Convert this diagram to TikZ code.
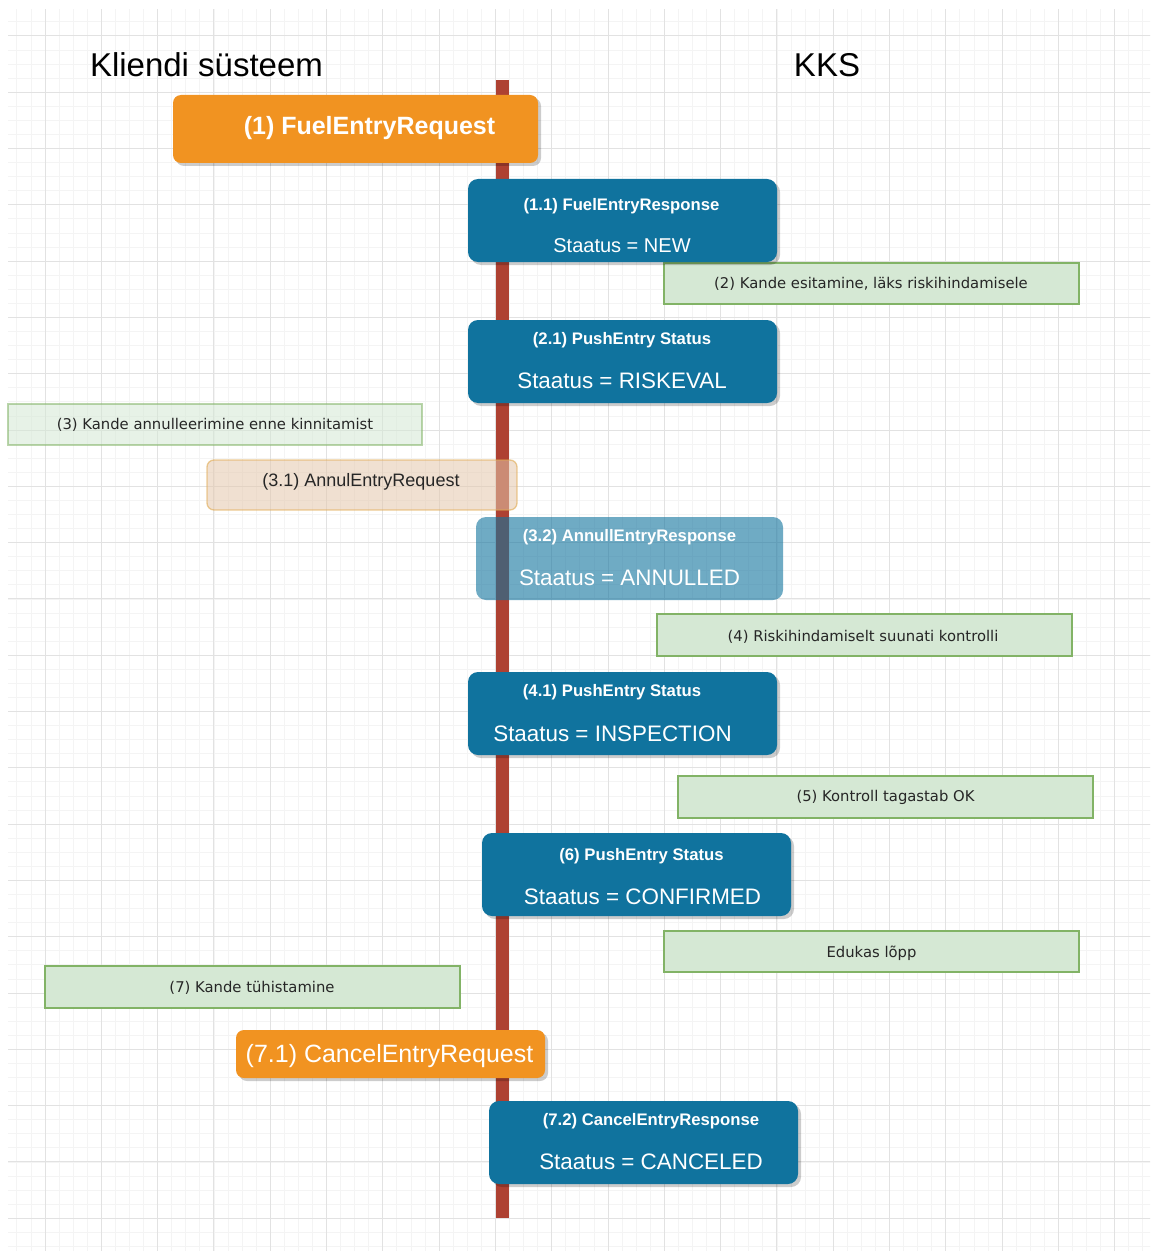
\documentclass[tikz,border=0pt]{standalone}
\usepackage{fontspec}
\setmainfont{Liberation Sans}
\newfontfamily\verd{DejaVu Sans}
\usetikzlibrary{shadows}
\definecolor{orangeF}{RGB}{241,147,33}
\definecolor{blueF}{RGB}{16,115,158}
\definecolor{greenF}{RGB}{213,232,212}
\definecolor{greenD}{RGB}{130,179,102}
\definecolor{redL}{RGB}{174,65,50}
\definecolor{peachF}{RGB}{228,200,172}
\definecolor{peachD}{RGB}{225,170,80}
\definecolor{gridMinor}{RGB}{244,244,244}
\definecolor{gridMajor}{RGB}{226,226,226}
\tikzset{
  shd/.style={drop shadow={shadow xshift=3pt,shadow yshift=-3pt,opacity=#1,fill=black}},
  bluebox/.style={rectangle, rounded corners=10pt, fill=blueF, draw=none,
    minimum width=309pt, minimum height=83pt, inner sep=0pt},
  orangebox/.style={rectangle, rounded corners=8pt, fill=orangeF, draw=none,
    inner sep=0pt, shd=0.2},
  greenbox/.style={rectangle, fill=greenF, draw=greenD, line width=1.5pt,
    minimum width=415pt, minimum height=41pt, inner sep=0pt},
  hdr/.style={anchor=base, inner sep=0pt, text=white, font=\fontsize{16.7}{18}\selectfont\bfseries},
  stat/.style={anchor=base, inner sep=0pt, text=white, font=\fontsize{22.4}{24}\selectfont},
  gtext/.style={anchor=base, inner sep=0pt, text=black!85, font=\verd\fontsize{14.8}{16}\selectfont},
  ttl/.style={anchor=base, inner sep=0pt, text=black, font=\fontsize{33}{36}\selectfont},
  gridminor/.style={draw=gridMinor, line width=0.8pt},
  gridmajor/.style={draw=gridMajor, line width=1pt},
}
\begin{document}
\begin{tikzpicture}[x=1pt,y=-1pt]
\useasboundingbox (0,0) rectangle (1153,1252);
\fill[white] (0,0) rectangle (1153,1252);
% grid
\begin{scope}
\clip (8,10) rectangle (1150,1250);
\foreach \k in {-3,...,78} \draw[gridminor] ({45+14.075*\k},0) -- ({45+14.075*\k},1252);
\foreach \k in {-2,...,86} \draw[gridminor] (0,{35.9+14.075*\k}) -- (1153,{35.9+14.075*\k});
\foreach \k in {0,...,19} \draw[gridmajor] ({45+56.3*\k},0) -- ({45+56.3*\k},1252);
\foreach \k in {0,...,21} \draw[gridmajor] (0,{35.9+56.3*\k}) -- (1153,{35.9+56.3*\k});
\end{scope}

% titles
\node[ttl] (tclient) at (206.5,77) {Kliendi süsteem};
\node[ttl] (tkks) at (827,77) {KKS};

% green notes
\node[greenbox] (g2) at (871.5,283.5) {};
\node[gtext] (g2t) at (871,288.3) {(2) Kande esitamine, läks riskihindamisele};
\node[greenbox, minimum width=414pt, fill opacity=0.55, draw opacity=0.55] (g3) at (215,424.5) {};
\node[gtext] (g3t) at (215,429.3) {(3) Kande annulleerimine enne kinnitamist};
\node[greenbox, minimum height=42pt] (g4) at (864.5,635) {};
\node[gtext] (g4t) at (863,641.3) {(4) Riskihindamiselt suunati kontrolli};
\node[greenbox, minimum height=42pt] (g5) at (885.5,797) {};
\node[gtext] (g5t) at (885.5,801.3) {(5) Kontroll tagastab OK};
\node[greenbox] (gend) at (871.5,951.5) {};
\node[gtext] (gendt) at (871.5,957.3) {Edukas lõpp};
\node[greenbox, minimum height=42pt] (g7) at (252.5,987) {};
\node[gtext] (g7t) at (252,992.3) {(7) Kande tühistamine};

% lifeline
\coordinate (ltop) at (502.5,80);
\coordinate (lbot) at (502.5,1218);
\draw[redL, line width=13pt] (ltop) -- (lbot);

% request / response boxes
\node[orangebox, minimum width=365pt, minimum height=68pt] (b1) at (355.5,129) {};
\node[anchor=base, inner sep=0pt, text=white, font=\fontsize{25}{28}\selectfont\bfseries] (b1t) at (369.5,135) {(1) FuelEntryRequest};

\node[bluebox, shd=0.2] (b11) at (622.5,220.5) {};
\node[hdr] (b11h) at (621.5,211) {(1.1) FuelEntryResponse};
\node[stat, font=\fontsize{20}{22}\selectfont] (b11s) at (622,252) {Staatus = NEW};

\node[bluebox, shd=0.2] (b21) at (622.5,361.5) {};
\node[hdr] (b21h) at (622,344) {(2.1) PushEntry Status};
\node[stat] (b21s) at (622,388) {Staatus = RISKEVAL};

\node[rectangle, rounded corners=7pt, fill=peachF, fill opacity=0.55, draw=peachD, draw opacity=0.6, line width=1.3pt,
  minimum width=310pt, minimum height=50pt, inner sep=0pt] (b31) at (362,485) {};
\node[anchor=base, inner sep=0pt, text=black!85, font=\fontsize{18}{20}\selectfont] (b31t) at (361,486.4) {(3.1) AnnulEntryRequest};

\node[bluebox, minimum width=307pt, fill opacity=0.6] (b32) at (629.5,558.5) {};
\node[hdr] (b32h) at (629.5,541) {(3.2) AnnullEntryResponse};
\node[stat] (b32s) at (629.5,585) {Staatus = ANNULLED};

\node[bluebox, shd=0.2] (b41) at (622.5,713.5) {};
\node[hdr] (b41h) at (612,696) {(4.1) PushEntry Status};
\node[stat] (b41s) at (612.5,741) {Staatus = INSPECTION};

\node[bluebox, shd=0.2] (b6) at (636.5,874.5) {};
\node[hdr] (b6h) at (641.5,860) {(6) PushEntry Status};
\node[stat] (b6s) at (642.5,904) {Staatus = CONFIRMED};

\node[orangebox, minimum width=309pt, minimum height=48pt] (b71) at (390.5,1054) {};
\node[anchor=base, inner sep=0pt, text=white, font=\fontsize{25}{28}\selectfont] (b71t) at (389.5,1062) {(7.1) CancelEntryRequest};

\node[bluebox, shd=0.2] (b72) at (643.5,1142.5) {};
\node[hdr] (b72h) at (651,1125) {(7.2) CancelEntryResponse};
\node[stat] (b72s) at (651,1169) {Staatus = CANCELED};
\end{tikzpicture}
\end{document}
